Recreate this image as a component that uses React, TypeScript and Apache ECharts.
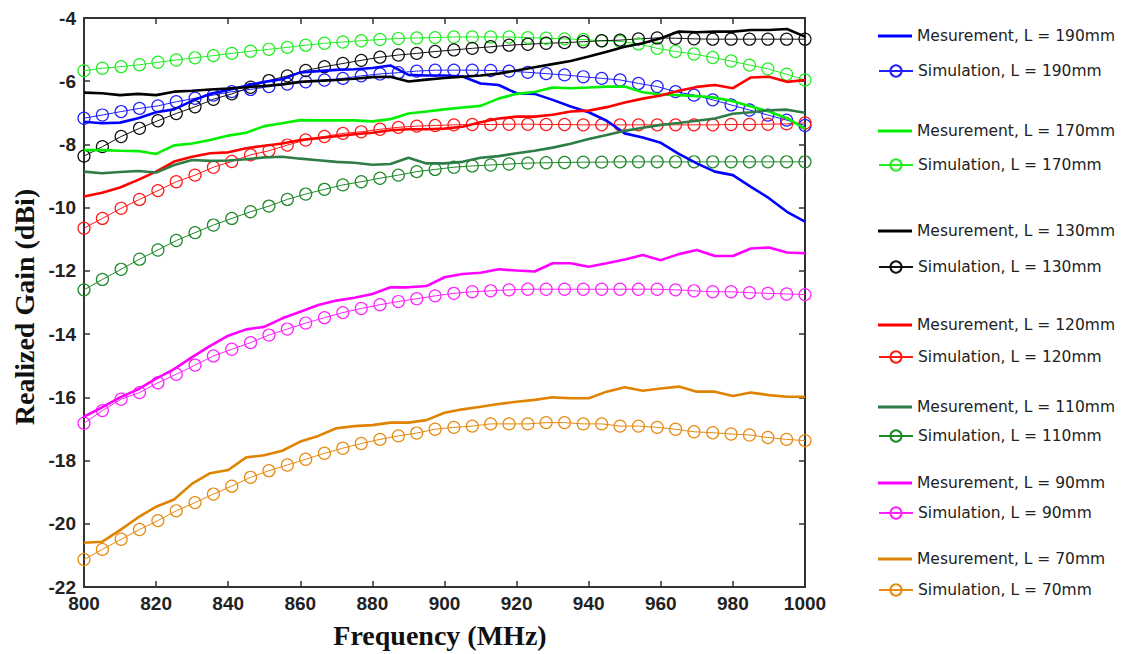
import React, { useEffect, useRef } from 'react';
import * as echarts from 'echarts';

// Frequencies (MHz)
const measFreq = [800, 805, 810, 815, 820, 825, 830, 835, 840, 845, 850, 855, 860, 865, 870, 875, 880, 885, 890, 895, 900, 905, 910, 915, 920, 925, 930, 935, 940, 945, 950, 955, 960, 965, 970, 975, 980, 985, 990, 995, 1000];
const simFreq = [800, 805.1, 810.3, 815.4, 820.5, 825.6, 830.8, 835.9, 841.0, 846.2, 851.3, 856.4, 861.5, 866.7, 871.8, 876.9, 882.1, 887.2, 892.3, 897.4, 902.6, 907.7, 912.8, 917.9, 923.1, 928.2, 933.3, 938.5, 943.6, 948.7, 953.8, 959.0, 964.1, 969.2, 974.4, 979.5, 984.6, 989.7, 994.9, 1000];

// Measurements (dBi)
const meas190 = [-7.28, -7.33, -7.31, -7.17, -6.98, -6.89, -6.62, -6.40, -6.28, -6.14, -6.02, -5.94, -5.72, -5.68, -5.64, -5.62, -5.58, -5.50, -5.80, -5.82, -5.82, -5.85, -6.07, -6.12, -6.38, -6.40, -6.59, -6.80, -6.98, -7.25, -7.65, -7.78, -7.95, -8.30, -8.60, -8.86, -8.97, -9.34, -9.70, -10.13, -10.44];
const meas170 = [-8.18, -8.18, -8.20, -8.21, -8.30, -8.03, -7.97, -7.86, -7.72, -7.63, -7.42, -7.33, -7.23, -7.24, -7.24, -7.24, -7.27, -7.20, -7.02, -6.96, -6.89, -6.83, -6.78, -6.55, -6.40, -6.34, -6.20, -6.22, -6.20, -6.17, -6.17, -6.35, -6.42, -6.44, -6.47, -6.52, -6.63, -6.80, -6.96, -7.17, -7.50];
const meas130 = [-6.36, -6.38, -6.44, -6.40, -6.44, -6.33, -6.30, -6.26, -6.23, -6.19, -6.15, -6.10, -6.02, -5.99, -5.96, -5.92, -5.87, -5.86, -6.01, -5.95, -5.90, -5.86, -5.82, -5.76, -5.66, -5.56, -5.46, -5.36, -5.22, -5.07, -4.91, -4.80, -4.64, -4.43, -4.45, -4.43, -4.43, -4.38, -4.38, -4.35, -4.59];
const meas120 = [-9.65, -9.53, -9.36, -9.12, -8.86, -8.54, -8.39, -8.28, -8.25, -8.12, -8.04, -7.97, -7.86, -7.80, -7.74, -7.68, -7.63, -7.55, -7.52, -7.52, -7.50, -7.44, -7.30, -7.18, -7.12, -7.12, -7.06, -6.96, -6.93, -6.82, -6.67, -6.55, -6.45, -6.30, -6.18, -6.12, -6.22, -5.88, -5.86, -6.02, -5.96];
const meas110 = [-8.86, -8.91, -8.87, -8.84, -8.89, -8.65, -8.49, -8.52, -8.51, -8.47, -8.41, -8.39, -8.45, -8.50, -8.55, -8.58, -8.64, -8.62, -8.42, -8.60, -8.60, -8.55, -8.42, -8.37, -8.28, -8.20, -8.10, -7.98, -7.83, -7.70, -7.57, -7.47, -7.38, -7.32, -7.25, -7.18, -7.03, -6.98, -6.92, -6.90, -7.00];
const meas90 = [-16.61, -16.32, -16.00, -15.75, -15.41, -15.11, -14.73, -14.37, -14.05, -13.85, -13.77, -13.50, -13.29, -13.08, -12.94, -12.85, -12.73, -12.52, -12.52, -12.48, -12.20, -12.10, -12.06, -11.95, -11.99, -12.02, -11.76, -11.76, -11.87, -11.76, -11.64, -11.50, -11.66, -11.47, -11.34, -11.53, -11.53, -11.29, -11.26, -11.42, -11.44];
const meas70 = [-20.60, -20.57, -20.20, -19.80, -19.46, -19.23, -18.73, -18.40, -18.30, -17.90, -17.83, -17.69, -17.40, -17.22, -16.98, -16.91, -16.88, -16.80, -16.80, -16.72, -16.49, -16.38, -16.30, -16.21, -16.14, -16.08, -16.00, -16.03, -16.03, -15.82, -15.68, -15.79, -15.72, -15.66, -15.82, -15.82, -15.96, -15.85, -15.93, -15.98, -15.98];

// Simulations (dBi)
const sim190 = [-7.17, -7.07, -6.96, -6.86, -6.78, -6.65, -6.54, -6.44, -6.33, -6.26, -6.17, -6.09, -6.02, -5.96, -5.91, -5.83, -5.77, -5.73, -5.68, -5.65, -5.65, -5.65, -5.66, -5.68, -5.72, -5.76, -5.80, -5.86, -5.91, -5.96, -6.07, -6.17, -6.33, -6.44, -6.59, -6.75, -6.91, -7.07, -7.23, -7.40];
const sim170 = [-5.67, -5.59, -5.54, -5.48, -5.40, -5.33, -5.26, -5.19, -5.12, -5.05, -4.99, -4.93, -4.86, -4.80, -4.76, -4.72, -4.68, -4.65, -4.63, -4.62, -4.60, -4.60, -4.60, -4.60, -4.62, -4.64, -4.66, -4.68, -4.72, -4.74, -4.82, -4.96, -5.06, -5.14, -5.25, -5.36, -5.49, -5.61, -5.78, -5.96];
const sim130 = [-8.37, -8.07, -7.75, -7.49, -7.25, -7.02, -6.81, -6.57, -6.40, -6.19, -5.98, -5.83, -5.66, -5.54, -5.44, -5.34, -5.24, -5.17, -5.12, -5.06, -5.01, -4.96, -4.91, -4.86, -4.83, -4.80, -4.78, -4.75, -4.72, -4.70, -4.66, -4.63, -4.64, -4.66, -4.67, -4.67, -4.67, -4.67, -4.67, -4.67];
const sim120 = [-10.65, -10.34, -10.02, -9.74, -9.46, -9.18, -8.97, -8.72, -8.54, -8.33, -8.20, -8.02, -7.86, -7.75, -7.65, -7.60, -7.52, -7.46, -7.42, -7.40, -7.38, -7.37, -7.37, -7.36, -7.36, -7.37, -7.37, -7.38, -7.38, -7.38, -7.38, -7.38, -7.38, -7.38, -7.38, -7.37, -7.37, -7.36, -7.35, -7.32];
const sim110 = [-12.60, -12.27, -11.95, -11.63, -11.34, -11.04, -10.79, -10.55, -10.34, -10.13, -9.95, -9.74, -9.57, -9.42, -9.28, -9.18, -9.07, -8.97, -8.86, -8.79, -8.72, -8.68, -8.65, -8.62, -8.59, -8.58, -8.57, -8.56, -8.56, -8.55, -8.55, -8.55, -8.55, -8.55, -8.55, -8.55, -8.55, -8.55, -8.55, -8.55];
const sim90 = [-16.82, -16.42, -16.06, -15.85, -15.54, -15.27, -14.98, -14.69, -14.48, -14.27, -14.03, -13.84, -13.65, -13.48, -13.32, -13.19, -13.07, -12.97, -12.88, -12.79, -12.71, -12.66, -12.63, -12.60, -12.58, -12.58, -12.58, -12.58, -12.58, -12.58, -12.58, -12.58, -12.60, -12.63, -12.66, -12.66, -12.69, -12.71, -12.73, -12.75];
const sim70 = [-21.13, -20.81, -20.49, -20.18, -19.90, -19.59, -19.33, -19.06, -18.81, -18.53, -18.32, -18.14, -17.96, -17.77, -17.61, -17.46, -17.33, -17.22, -17.13, -17.01, -16.95, -16.91, -16.84, -16.84, -16.84, -16.80, -16.80, -16.84, -16.84, -16.91, -16.91, -16.95, -17.01, -17.09, -17.12, -17.16, -17.19, -17.27, -17.33, -17.37];

const lengths = ['190', '170', '130', '120', '110', '90', '70'];
const measSets = [meas190, meas170, meas130, meas120, meas110, meas90, meas70];
const simSets = [sim190, sim170, sim130, sim120, sim110, sim90, sim70];
const measColors = ['#0000ff', '#00f000', '#000000', '#ff0000', '#2e7d46', '#ff00ff', '#e08300'];
const simColors = ['#1f1fff', '#22ee22', '#111111', '#ff1a1a', '#1e8a28', '#ff22ff', '#e68a10'];
const legendCenters = [[36, 71], [131, 165], [231, 267], [325, 357], [407, 436], [483, 513], [559, 590]];

const zip = (xs: number[], ys: number[]) => xs.map((x, i) => [x, ys[i]]);

export default function App() {
  const ref = useRef<HTMLDivElement>(null);
  useEffect(() => {
    const chart = echarts.init(ref.current!, null, { renderer: 'svg' });
    const series: any[] = [];
    const legends: any[] = [];
    const legendText = { fontFamily: 'DejaVu Sans', fontSize: 15.5, color: '#222' };
    lengths.forEach((L, k) => {
      const mName = `Mesurement, L = ${L}mm`;
      const sName = `Simulation, L = ${L}mm`;
      series.push({
        name: sName,
        type: 'line',
        data: zip(simFreq, simSets[k]),
        symbol: 'circle',
        symbolSize: 12,
        showSymbol: true,
        lineStyle: { color: simColors[k], width: 1 },
        itemStyle: { color: 'rgba(255,255,255,0)', borderColor: simColors[k], borderWidth: 1.2 },
        z: 2,
      });
      series.push({
        name: mName,
        type: 'line',
        data: zip(measFreq, measSets[k]),
        symbol: 'none',
        showSymbol: false,
        lineStyle: { color: measColors[k], width: 2.6 },
        itemStyle: { color: measColors[k] },
        z: 3,
      });
      const [c1, c2] = legendCenters[k];
      legends.push({
        data: [{ name: mName, icon: 'rect', itemStyle: { color: measColors[k] } }],
        left: 878, top: c1 - 8, itemWidth: 34, itemHeight: 3,
        textStyle: legendText, selectedMode: false, padding: 0,
      });
      legends.push({
        data: [sName], left: 878, top: c2 - 8, itemWidth: 34, itemHeight: 14,
        textStyle: legendText, selectedMode: false, padding: 0,
      });
    });

    const axisLine = { show: true, lineStyle: { color: '#333', width: 2 } };
    const axisTick = { show: true, inside: true, length: 6, lineStyle: { color: '#333', width: 1.5 } };
    const labelStyle = { fontFamily: 'Liberation Sans', fontWeight: 'bold', fontSize: 19, color: '#222' };

    chart.setOption({
      animation: false,
      backgroundColor: '#fff',
      grid: { left: 84, right: 327, top: 18, bottom: 67 },
      legend: legends,
      xAxis: [
        {
          type: 'value', min: 800, max: 1000, interval: 20, position: 'bottom',
          axisLine, axisTick, splitLine: { show: false },
          axisLabel: { ...labelStyle, margin: 7, formatter: (v: number) => String(v) },
        },
        {
          type: 'value', min: 800, max: 1000, interval: 20, position: 'top',
          axisLine, axisTick, splitLine: { show: false }, axisLabel: { show: false },
        },
      ],
      yAxis: [
        {
          type: 'value', min: -22, max: -4, interval: 2, position: 'left',
          axisLine, axisTick, splitLine: { show: false },
          axisLabel: { ...labelStyle, margin: 8, formatter: (v: number) => String(v) },
        },
        {
          type: 'value', min: -22, max: -4, interval: 2, position: 'right',
          axisLine, axisTick, splitLine: { show: false }, axisLabel: { show: false },
        },
      ],
      graphic: [
        {
          type: 'text', x: 24, y: 307, rotation: Math.PI / 2,
          style: {
            text: 'Realized Gain (dBi)', font: 'bold 28px "Liberation Serif"', fill: '#111',
            align: 'center', verticalAlign: 'middle', textAlign: 'center', textVerticalAlign: 'middle',
          },
        },
        {
          type: 'text', x: 440, y: 635,
          style: {
            text: 'Frequency (MHz)', font: 'bold 28px "Liberation Serif"', fill: '#111',
            align: 'center', verticalAlign: 'middle', textAlign: 'center', textVerticalAlign: 'middle',
          },
        },
      ],
      series,
    });
    return () => chart.dispose();
  }, []);
  return <div ref={ref} style={{ position: 'fixed', left: 0, top: 0, width: 1132, height: 654, background: '#fff' }} />;
}
